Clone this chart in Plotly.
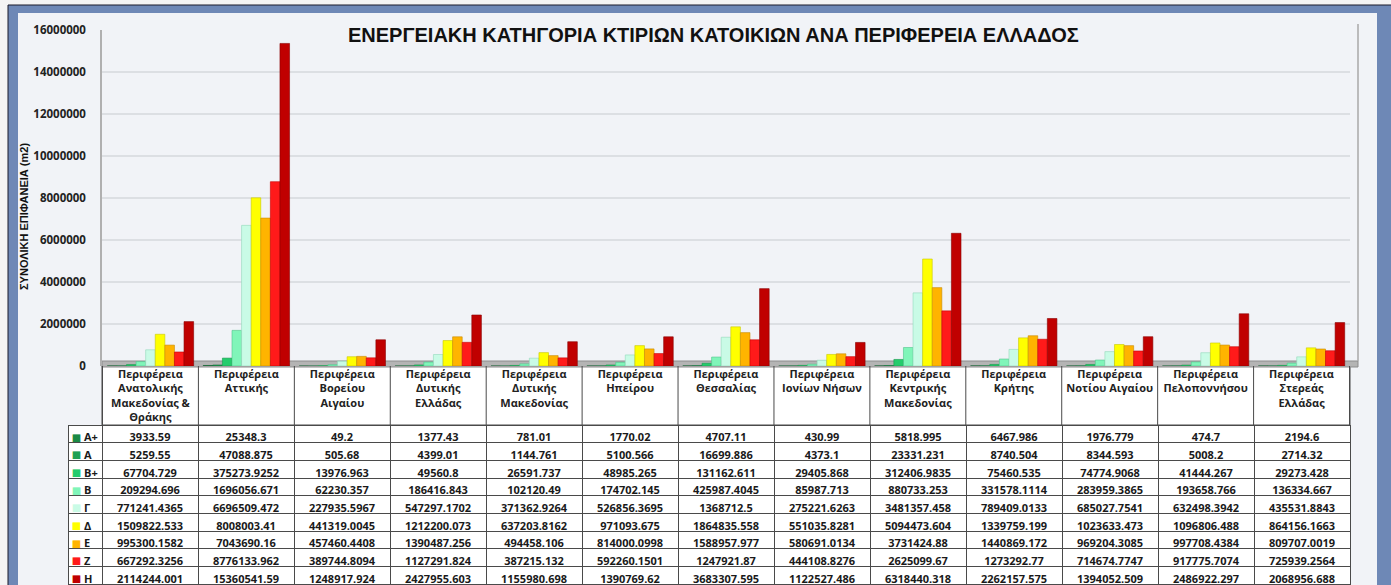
import plotly.graph_objects as go

W, H = 1391, 585

regions = [
    "Περιφέρεια<br>Ανατολικής<br>Μακεδονίας &<br>Θράκης",
    "Περιφέρεια<br>Αττικής",
    "Περιφέρεια<br>Βορείου<br>Αιγαίου",
    "Περιφέρεια<br>Δυτικής<br>Ελλάδας",
    "Περιφέρεια<br>Δυτικής<br>Μακεδονίας",
    "Περιφέρεια<br>Ηπείρου",
    "Περιφέρεια<br>Θεσσαλίας",
    "Περιφέρεια<br>Ιονίων Νήσων",
    "Περιφέρεια<br>Κεντρικής<br>Μακεδονίας",
    "Περιφέρεια<br>Κρήτης",
    "Περιφέρεια<br>Νοτίου Αιγαίου",
    "Περιφέρεια<br>Πελοποννήσου",
    "Περιφέρεια<br>Στερεάς<br>Ελλάδας",
]

categories = ["A+", "A", "B+", "B", "Γ", "Δ", "E", "Z", "H"]

val_Aplus = [3933.59, 25348.3, 49.2, 1377.43, 781.01, 1770.02, 4707.11, 430.99, 5818.995, 6467.986, 1976.779, 474.7, 2194.6]
val_A = [5259.55, 47088.875, 505.68, 4399.01, 1144.761, 5100.566, 16699.886, 4373.1, 23331.231, 8740.504, 8344.593, 5008.2, 2714.32]
val_Bplus = [67704.729, 375273.9252, 13976.963, 49560.8, 26591.737, 48985.265, 131162.611, 29405.868, 312406.9835, 75460.535, 74774.9068, 41444.267, 29273.428]
val_B = [209294.696, 1696056.671, 62230.357, 186416.843, 102120.49, 174702.145, 425987.4045, 85987.713, 880733.253, 331578.1114, 283959.3865, 193658.766, 136334.667]
val_G = [771241.4365, 6696509.472, 227935.5967, 547297.1702, 371362.9264, 526856.3695, 1368712.5, 275221.6263, 3481357.458, 789409.0133, 685027.7541, 632498.3942, 435531.8843]
val_D = [1509822.533, 8008003.41, 441319.0045, 1212200.073, 637203.8162, 971093.675, 1864835.558, 551035.8281, 5094473.604, 1339759.199, 1023633.473, 1096806.488, 864156.1663]
val_E = [995300.1582, 7043690.16, 457460.4408, 1390487.256, 494458.106, 814000.0998, 1588957.977, 580691.0134, 3731424.88, 1440869.172, 969204.3085, 997708.4384, 809707.0019]
val_Z = [667292.3256, 8776133.962, 389744.8094, 1127291.824, 387215.132, 592260.1501, 1247921.87, 444108.8276, 2625099.67, 1273292.77, 714674.7747, 917775.7074, 725939.2564]
val_H = [2114244.001, 15360541.59, 1248917.924, 2427955.603, 1155980.698, 1390769.62, 3683307.595, 1122527.486, 6318440.318, 2262157.575, 1394052.509, 2486922.297, 2068956.688]

series = [val_Aplus, val_A, val_Bplus, val_B, val_G, val_D, val_E, val_Z, val_H]
colors = ["#1b8a45", "#1fa052", "#25cc6c", "#80f5b9", "#c9fbe6", "#ffff00", "#ffb400", "#ff1a1a", "#c00000"]
edges = ["#0f5c2c", "#13703a", "#179a4e", "#4fc58c", "#92d8bb", "#c8c800", "#c88a00", "#c80000", "#8a0000"]

y_ticks = [0, 2000000, 4000000, 6000000, 8000000, 10000000, 12000000, 14000000, 16000000]

FONT = "Open Sans, Lato, Liberation Sans, sans-serif"

def px_x(p):
    return p / W

def px_y(p):
    return 1 - p / H

TOP_HDR, TOP_TBL = 366, 425
ROW_H = 17.7
CLEAR = "rgba(0,0,0,0)"

fig = go.Figure()

for name, vals, c, e in zip(categories, series, colors, edges):
    fig.add_trace(go.Bar(
        x=regions, y=vals, name=name,
        marker=dict(color=c, line=dict(color=e, width=0.6)),
        showlegend=False,
    ))

# data table: one row per energy class (first row is the table's header row)
cols = [[""] * len(categories)]
for i in range(len(regions)):
    cols.append([str(s[i]) for s in series])

cell_font = dict(family=FONT, size=11, color="#1a1a1a", weight="bold")
aligns = ["left"] + ["center"] * len(regions)

fig.add_trace(go.Table(
    domain=dict(x=[px_x(68), px_x(1350)], y=[0, px_y(TOP_TBL)]),
    columnwidth=[34] + [96] * len(regions),
    header=dict(values=[c[0] for c in cols], fill=dict(color="white"),
                line=dict(color="#4a4a4a", width=1), font=cell_font, align=aligns, height=ROW_H),
    cells=dict(values=[c[1:] for c in cols], fill=dict(color="white"),
               line=dict(color="#4a4a4a", width=1), font=cell_font, align=aligns, height=ROW_H),
))

# legend column: colour keys
sq_font = dict(family="DejaVu Sans", size=10)
fig.add_trace(go.Table(
    domain=dict(x=[px_x(70), px_x(84)], y=[0, px_y(TOP_TBL)]),
    columnwidth=[14],
    header=dict(values=["■"], fill=dict(color=CLEAR), line=dict(color=CLEAR, width=0),
                font=dict(**sq_font, color=colors[0]), align="center", height=ROW_H),
    cells=dict(values=[["■"] * (len(categories) - 1)], fill=dict(color=CLEAR),
               line=dict(color=CLEAR, width=0),
               font=dict(**sq_font, color=[colors[1:]]), align="center", height=ROW_H),
))

# legend column: class labels
fig.add_trace(go.Table(
    domain=dict(x=[px_x(76), px_x(102)], y=[0, px_y(TOP_TBL)]),
    columnwidth=[26],
    header=dict(values=[categories[0]], fill=dict(color=CLEAR), line=dict(color=CLEAR, width=0),
                font=cell_font, align="left", height=ROW_H),
    cells=dict(values=[categories[1:]], fill=dict(color=CLEAR), line=dict(color=CLEAR, width=0),
               font=cell_font, align="left", height=ROW_H),
))

shapes = [
    dict(type="rect", xref="paper", yref="paper", x0=px_x(8), x1=px_x(1395), y0=px_y(590), y1=px_y(5),
         fillcolor="#6e88b6", line=dict(color="#1a1a2a", width=1), layer="below"),
    dict(type="rect", xref="paper", yref="paper", x0=px_x(18), x1=px_x(1377), y0=px_y(590), y1=px_y(13),
         fillcolor="#f1f3f7", line=dict(width=0), layer="below"),
    # header row background
    dict(type="rect", xref="paper", yref="paper", x0=px_x(102), x1=px_x(1350), y0=px_y(TOP_TBL), y1=px_y(TOP_HDR),
         fillcolor="white", line=dict(color="#4a4a4a", width=1), layer="below"),
    # floor
    dict(type="rect", xref="paper", yref="paper", x0=px_x(102), x1=px_x(1358), y0=px_y(367), y1=px_y(361),
         fillcolor="#b4b4b4", line=dict(color="#8c8c8c", width=1), layer="below"),
    dict(type="line", xref="paper", yref="paper", x0=px_x(1358), x1=px_x(1358), y0=px_y(361), y1=px_y(24),
         line=dict(color="#a8a8a8", width=1.5), layer="below"),
]
for i in range(len(regions) + 1):
    shapes.append(dict(type="line", xref="x", yref="paper", x0=i - 0.5, x1=i - 0.5,
                       y0=px_y(TOP_TBL), y1=px_y(TOP_HDR), line=dict(color="#4a4a4a", width=1)))

annotations = [
    dict(text="<b>ΕΝΕΡΓΕΙΑΚΗ ΚΑΤΗΓΟΡΙΑ ΚΤΙΡΙΩΝ ΚΑΤΟΙΚΙΩΝ ΑΝΑ ΠΕΡΙΦΕΡΕΙΑ ΕΛΛΑΔΟΣ</b>",
         x=px_x(713), y=px_y(35), xref="paper", yref="paper", showarrow=False,
         font=dict(family="Liberation Sans, Arial, sans-serif", size=20, color="#111"),
         xanchor="center", yanchor="middle"),
    dict(text="<b>ΣΥΝΟΛΙΚΗ ΕΠΙΦΑΝΕΙΑ (m2)</b>", textangle=-90,
         x=px_x(24), y=px_y(217), xref="paper", yref="paper", showarrow=False,
         font=dict(family="Liberation Sans Narrow, Liberation Sans, sans-serif", size=11, color="#111"),
         xanchor="center", yanchor="middle"),
]

fig.update_layout(
    width=W, height=H,
    margin=dict(l=0, r=0, t=0, b=0, pad=0, autoexpand=False),
    paper_bgcolor="#f4f4f4",
    plot_bgcolor=CLEAR,
    barmode="group", bargap=0.1, bargroupgap=0.0,
    showlegend=False,
    shapes=shapes, annotations=annotations,
    xaxis=dict(domain=[px_x(102), px_x(1350)], type="category", automargin=False,
               tickfont=dict(family=FONT, size=11, color="#222", weight="bold"),
               ticks="", ticklabelstandoff=0,
               showgrid=False, zeroline=False, showline=False, fixedrange=True),
    yaxis=dict(domain=[px_y(TOP_HDR), px_y(30)], range=[0, 16000000], automargin=False,
               tickvals=y_ticks, ticktext=[str(v) for v in y_ticks],
               tickfont=dict(family=FONT, size=11.5, color="#222", weight="bold"),
               showgrid=True, gridcolor="#dcdfe3", gridwidth=1.5,
               zeroline=False, showline=True, linecolor="#b0b0b0", linewidth=1.5,
               ticks="", ticklabelstandoff=12, fixedrange=True),
)

fig.write_html("out.html", config={"displayModeBar": False},
               post_script="document.body.style.margin='0';document.body.style.overflow='hidden';")
